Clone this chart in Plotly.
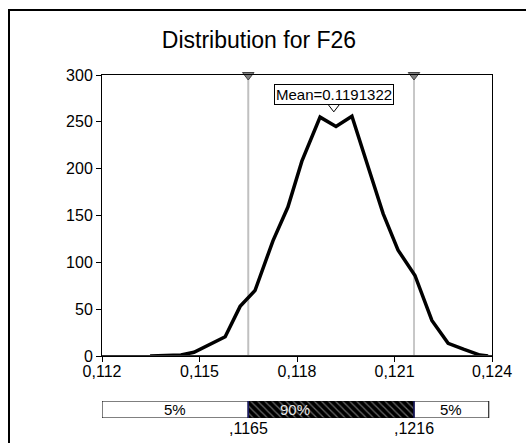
import plotly.graph_objects as go

# Simulated output distribution for cell F26
x_vals = [0.11348, 0.11397, 0.11443, 0.11483, 0.11529, 0.11579, 0.11625, 0.11671,
          0.11726, 0.11772, 0.11815, 0.11871, 0.11920, 0.11969, 0.12017, 0.12065,
          0.12111, 0.12163, 0.12215, 0.12265, 0.12314, 0.12363, 0.12388]
counts = [0, 0.5, 1, 4, 12, 20.5, 53, 70, 123, 159, 208, 255, 245, 256, 204, 152,
          113, 86, 38, 13.5, 7, 1, 0]

x_ticks = [0.112, 0.115, 0.118, 0.121, 0.124]
X_MIN, X_MAX = 0.112, 0.124
Y_MAX = 300
MEAN = 0.1191322
P5, P95 = 0.1165, 0.1216
BAR_END = 0.1239
pct_labels = ["5%", "90%", "5%"]

FONT = "Liberation Sans, Arial, sans-serif"

# pixel helpers for paper-referenced decorations
L, R, T, B = 102, 34, 75, 25
W, H = 526, 443
PW, PH = W - L - R, H - T - B


def px_x(px):
    return (px - L) / PW


def px_y(py):
    return (H - B - py) / PH


fig = go.Figure()

# percentile bar (left 5%, middle 90% hatched, right 5%)
fig.add_trace(go.Bar(x=[P5 - X_MIN], base=[X_MIN], y=[0], orientation="h", width=1,
                     marker=dict(color="white", line=dict(color="black", width=1)),
                     xaxis="x", yaxis="y2", hoverinfo="skip"))
fig.add_trace(go.Bar(x=[P95 - P5], base=[P5], y=[0], orientation="h", width=1,
                     marker=dict(color="black", line=dict(color="black", width=1),
                                 pattern=dict(shape="\\", fgcolor="#cfcfcf", bgcolor="black",
                                              size=5, solidity=0.25)),
                     xaxis="x", yaxis="y2", hoverinfo="skip"))
fig.add_trace(go.Bar(x=[BAR_END - P95], base=[P95], y=[0], orientation="h", width=1,
                     marker=dict(color="white", line=dict(color="black", width=1)),
                     xaxis="x", yaxis="y2", hoverinfo="skip"))

# distribution curve
fig.add_trace(go.Scatter(x=x_vals, y=counts, mode="lines",
                         line=dict(color="black", width=3.5),
                         xaxis="x", yaxis="y", hoverinfo="skip"))

# percentile markers on top edge
fig.add_trace(go.Scatter(x=[P5, P95], y=[Y_MAX, Y_MAX], mode="markers",
                         marker=dict(symbol="triangle-down", size=10, color="#808080",
                                     line=dict(color="#404040", width=1)),
                         cliponaxis=False, xaxis="x", yaxis="y", hoverinfo="skip"))

# mean marker
fig.add_trace(go.Scatter(x=[MEAN], y=[266], mode="markers",
                         marker=dict(symbol="triangle-down", size=10, color="white",
                                     line=dict(color="black", width=1)),
                         cliponaxis=False, xaxis="x", yaxis="y", hoverinfo="skip"))

shapes = [
    # percentile lines
    dict(type="line", xref="x", yref="y", x0=P5, x1=P5, y0=0, y1=Y_MAX,
         line=dict(color="#c0c0c0", width=2), layer="below"),
    dict(type="line", xref="x", yref="y", x0=P95, x1=P95, y0=0, y1=Y_MAX,
         line=dict(color="#909090", width=1), layer="below"),
    # heavier baseline
    dict(type="line", xref="x", yref="y", x0=X_MIN, x1=X_MAX, y0=0, y1=0,
         line=dict(color="#333333", width=2)),
    # separators in the percentile bar
    dict(type="line", xref="x", yref="y2", x0=P5, x1=P5, y0=-0.5, y1=0.5,
         line=dict(color="#1a1a66", width=1.5)),
    dict(type="line", xref="x", yref="y2", x0=P95, x1=P95, y0=-0.5, y1=0.5,
         line=dict(color="#1a1a66", width=1.5)),
    # outer frame: top and left edges of the panel
    dict(type="line", xref="paper", yref="paper", x0=px_x(8), x1=px_x(W),
         y0=px_y(10), y1=px_y(10), line=dict(color="black", width=2)),
    dict(type="line", xref="paper", yref="paper", x0=px_x(9), x1=px_x(9),
         y0=px_y(9), y1=px_y(H), line=dict(color="black", width=2)),
]

annotations = [
    dict(text="Mean=" + f"{MEAN:.7f}", x=MEAN, y=279, xref="x", yref="y",
         showarrow=False, font=dict(size=15, color="black", family=FONT),
         bordercolor="black", borderwidth=1, borderpad=1, bgcolor="white"),
    dict(text=pct_labels[0], x=(X_MIN + P5) / 2, y=0, xref="x", yref="y2",
         showarrow=False, font=dict(size=15, color="black", family=FONT)),
    dict(text=pct_labels[1], x=(X_MIN + BAR_END) / 2, y=0, xref="x", yref="y2",
         showarrow=False, font=dict(size=15, color="#e6e6e6", family=FONT)),
    dict(text=pct_labels[2], x=(P95 + BAR_END) / 2, y=0, xref="x", yref="y2",
         showarrow=False, font=dict(size=15, color="black", family=FONT)),
    dict(text=f"{P5:.4f}"[1:].replace(".", ","), x=P5, y=-0.5, xref="x", yref="y2",
         yanchor="top", showarrow=False, font=dict(size=16, color="black", family=FONT)),
    dict(text=f"{P95:.4f}"[1:].replace(".", ","), x=P95, y=-0.5, xref="x", yref="y2",
         yanchor="top", showarrow=False, font=dict(size=16, color="black", family=FONT)),
]

fig.update_layout(
    width=W, height=H, autosize=False,
    margin=dict(l=L, r=R, t=T, b=B, pad=0),
    paper_bgcolor="white", plot_bgcolor="white",
    showlegend=False, barmode="overlay", separators=", ",
    font=dict(family=FONT, size=16, color="black"),
    title=dict(text="Distribution for F26", x=259 / W, xref="container", xanchor="center",
               y=1 - 40 / H, yref="container", yanchor="middle",
               font=dict(size=23, family=FONT, color="black")),
    xaxis=dict(range=[X_MIN, X_MAX], tickvals=x_ticks, tickformat=".3f",
               ticks="outside", ticklen=5, tickcolor="black", ticklabelstandoff=-4,
               showline=True, linecolor="black", linewidth=1, mirror=True,
               showgrid=False, zeroline=False, anchor="y"),
    yaxis=dict(domain=[(418 - 356) / PH, 1], range=[0, Y_MAX], dtick=50,
               ticks="outside", ticklen=5, tickcolor="black",
               showline=True, linecolor="black", linewidth=1, mirror=True,
               showgrid=False, zeroline=False),
    yaxis2=dict(domain=[0, 17 / PH], range=[-0.5, 0.5], visible=False, anchor="x"),
    shapes=shapes,
    annotations=annotations,
)

fig.write_html("out.html", config={"displayModeBar": False})
